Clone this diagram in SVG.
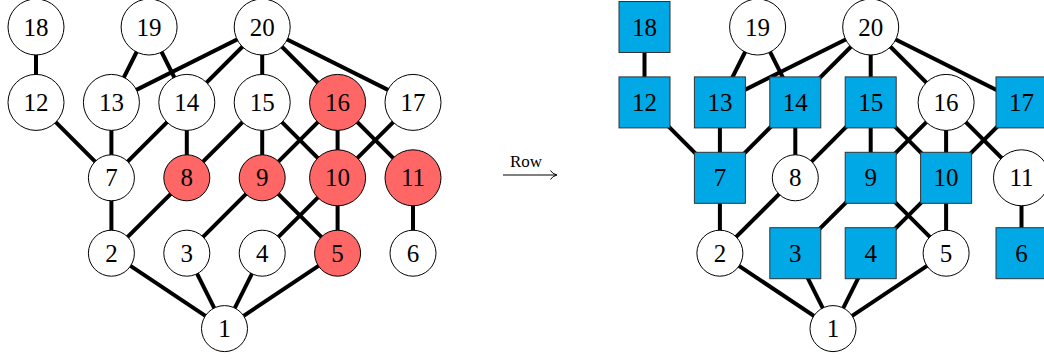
<svg xmlns="http://www.w3.org/2000/svg" width="1044" height="360" viewBox="0 0 1044 360">
<style>
.e{stroke:#000;stroke-width:4;fill:none}
.c{fill:#fff;stroke:#000;stroke-width:1}
.r{fill:#ff6666;stroke:#000;stroke-width:1}
.s{fill:#00a8e6;stroke:#333;stroke-width:1}
.t{font-family:"Liberation Serif","DejaVu Serif",serif;font-size:25px;text-anchor:middle;fill:#000}
.lbl{font-family:"Liberation Serif","DejaVu Serif",serif;font-size:17px;fill:#000}
</style>
<rect width="1044" height="360" fill="#fff"/>
<!-- LEFT GRAPH -->
<g id="left">
<g id="left-edges">
<line class="e" x1="36" y1="27" x2="36" y2="102.4"/>
<line class="e" x1="149.1" y1="27" x2="111.4" y2="102.4"/>
<line class="e" x1="149.1" y1="27" x2="186.8" y2="102.4"/>
<line class="e" x1="262.2" y1="27" x2="111.4" y2="102.4"/>
<line class="e" x1="262.2" y1="27" x2="186.8" y2="102.4"/>
<line class="e" x1="262.2" y1="27" x2="262.2" y2="102.4"/>
<line class="e" x1="262.2" y1="27" x2="337.6" y2="102.4"/>
<line class="e" x1="262.2" y1="27" x2="413" y2="102.4"/>
<line class="e" x1="36" y1="102.4" x2="111.4" y2="177.8"/>
<line class="e" x1="111.4" y1="102.4" x2="111.4" y2="177.8"/>
<line class="e" x1="186.8" y1="102.4" x2="111.4" y2="177.8"/>
<line class="e" x1="186.8" y1="102.4" x2="186.8" y2="177.8"/>
<line class="e" x1="262.2" y1="102.4" x2="186.8" y2="177.8"/>
<line class="e" x1="262.2" y1="102.4" x2="262.2" y2="177.8"/>
<line class="e" x1="337.6" y1="102.4" x2="262.2" y2="177.8"/>
<line class="e" x1="262.2" y1="102.4" x2="337.6" y2="177.8"/>
<line class="e" x1="337.6" y1="102.4" x2="337.6" y2="177.8"/>
<line class="e" x1="413" y1="102.4" x2="337.6" y2="177.8"/>
<line class="e" x1="337.6" y1="102.4" x2="413" y2="177.8"/>
<line class="e" x1="111.4" y1="177.8" x2="111.4" y2="253.2"/>
<line class="e" x1="186.8" y1="177.8" x2="111.4" y2="253.2"/>
<line class="e" x1="262.2" y1="177.8" x2="186.8" y2="253.2"/>
<line class="e" x1="337.6" y1="177.8" x2="262.2" y2="253.2"/>
<line class="e" x1="262.2" y1="177.8" x2="337.6" y2="253.2"/>
<line class="e" x1="337.6" y1="177.8" x2="337.6" y2="253.2"/>
<line class="e" x1="413" y1="177.8" x2="413" y2="253.2"/>
<line class="e" x1="111.4" y1="253.2" x2="224.5" y2="328.6"/>
<line class="e" x1="186.8" y1="253.2" x2="224.5" y2="328.6"/>
<line class="e" x1="262.2" y1="253.2" x2="224.5" y2="328.6"/>
<line class="e" x1="337.6" y1="253.2" x2="224.5" y2="328.6"/>
</g>
<g id="L18" transform="translate(36 27)"><circle class="c" r="28"/><text class="t" y="8.5">18</text></g>
<g id="L19" transform="translate(149.1 27)"><circle class="c" r="28"/><text class="t" y="8.5">19</text></g>
<g id="L20" transform="translate(262.2 27)"><circle class="c" r="28"/><text class="t" y="8.5">20</text></g>
<g id="L12" transform="translate(36 102.4)"><circle class="c" r="28"/><text class="t" y="8.5">12</text></g>
<g id="L13" transform="translate(111.4 102.4)"><circle class="c" r="28"/><text class="t" y="8.5">13</text></g>
<g id="L14" transform="translate(186.8 102.4)"><circle class="c" r="28"/><text class="t" y="8.5">14</text></g>
<g id="L15" transform="translate(262.2 102.4)"><circle class="c" r="28"/><text class="t" y="8.5">15</text></g>
<g id="L16" transform="translate(337.6 102.4)"><circle class="r" r="28"/><text class="t" y="8.5">16</text></g>
<g id="L17" transform="translate(413 102.4)"><circle class="c" r="28"/><text class="t" y="8.5">17</text></g>
<g id="L7" transform="translate(111.4 177.8)"><circle class="c" r="23"/><text class="t" y="8.5">7</text></g>
<g id="L8" transform="translate(186.8 177.8)"><circle class="r" r="23"/><text class="t" y="8.5">8</text></g>
<g id="L9" transform="translate(262.2 177.8)"><circle class="r" r="23"/><text class="t" y="8.5">9</text></g>
<g id="L10" transform="translate(337.6 177.8)"><circle class="r" r="28"/><text class="t" y="8.5">10</text></g>
<g id="L11" transform="translate(413 177.8)"><circle class="r" r="28"/><text class="t" y="8.5">11</text></g>
<g id="L2" transform="translate(111.4 253.2)"><circle class="c" r="23"/><text class="t" y="8.5">2</text></g>
<g id="L3" transform="translate(186.8 253.2)"><circle class="c" r="23"/><text class="t" y="8.5">3</text></g>
<g id="L4" transform="translate(262.2 253.2)"><circle class="c" r="23"/><text class="t" y="8.5">4</text></g>
<g id="L5" transform="translate(337.6 253.2)"><circle class="r" r="23"/><text class="t" y="8.5">5</text></g>
<g id="L6" transform="translate(413 253.2)"><circle class="c" r="23"/><text class="t" y="8.5">6</text></g>
<g id="L1" transform="translate(224.5 328.6)"><circle class="c" r="23"/><text class="t" y="8.5">1</text></g>
</g>
<!-- ARROW -->
<g id="arrow">
<text class="lbl" x="510" y="167">Row</text>
<line x1="503" y1="175" x2="556" y2="175" stroke="#000" stroke-width="1"/>
<path d="M550.5,170.5 Q552.5,174 557,175 Q552.5,176 550.5,179.5" fill="none" stroke="#000" stroke-width="1"/>
</g>
<!-- RIGHT GRAPH -->
<g id="right" transform="translate(608.5 0)">
<g id="right-edges">
<line class="e" x1="36" y1="27" x2="36" y2="102.4"/>
<line class="e" x1="149.1" y1="27" x2="111.4" y2="102.4"/>
<line class="e" x1="149.1" y1="27" x2="186.8" y2="102.4"/>
<line class="e" x1="262.2" y1="27" x2="111.4" y2="102.4"/>
<line class="e" x1="262.2" y1="27" x2="186.8" y2="102.4"/>
<line class="e" x1="262.2" y1="27" x2="262.2" y2="102.4"/>
<line class="e" x1="262.2" y1="27" x2="337.6" y2="102.4"/>
<line class="e" x1="262.2" y1="27" x2="413" y2="102.4"/>
<line class="e" x1="36" y1="102.4" x2="111.4" y2="177.8"/>
<line class="e" x1="111.4" y1="102.4" x2="111.4" y2="177.8"/>
<line class="e" x1="186.8" y1="102.4" x2="111.4" y2="177.8"/>
<line class="e" x1="186.8" y1="102.4" x2="186.8" y2="177.8"/>
<line class="e" x1="262.2" y1="102.4" x2="186.8" y2="177.8"/>
<line class="e" x1="262.2" y1="102.4" x2="262.2" y2="177.8"/>
<line class="e" x1="337.6" y1="102.4" x2="262.2" y2="177.8"/>
<line class="e" x1="262.2" y1="102.4" x2="337.6" y2="177.8"/>
<line class="e" x1="337.6" y1="102.4" x2="337.6" y2="177.8"/>
<line class="e" x1="413" y1="102.4" x2="337.6" y2="177.8"/>
<line class="e" x1="337.6" y1="102.4" x2="413" y2="177.8"/>
<line class="e" x1="111.4" y1="177.8" x2="111.4" y2="253.2"/>
<line class="e" x1="186.8" y1="177.8" x2="111.4" y2="253.2"/>
<line class="e" x1="262.2" y1="177.8" x2="186.8" y2="253.2"/>
<line class="e" x1="337.6" y1="177.8" x2="262.2" y2="253.2"/>
<line class="e" x1="262.2" y1="177.8" x2="337.6" y2="253.2"/>
<line class="e" x1="337.6" y1="177.8" x2="337.6" y2="253.2"/>
<line class="e" x1="413" y1="177.8" x2="413" y2="253.2"/>
<line class="e" x1="111.4" y1="253.2" x2="224.5" y2="328.6"/>
<line class="e" x1="186.8" y1="253.2" x2="224.5" y2="328.6"/>
<line class="e" x1="262.2" y1="253.2" x2="224.5" y2="328.6"/>
<line class="e" x1="337.6" y1="253.2" x2="224.5" y2="328.6"/>
</g>
<g id="R18" transform="translate(36 27)"><rect class="s" x="-25.5" y="-25.5" width="51" height="51"/><text class="t" y="8.5">18</text></g>
<g id="R19" transform="translate(149.1 27)"><circle class="c" r="28"/><text class="t" y="8.5">19</text></g>
<g id="R20" transform="translate(262.2 27)"><circle class="c" r="28"/><text class="t" y="8.5">20</text></g>
<g id="R12" transform="translate(36 102.4)"><rect class="s" x="-25.5" y="-25.5" width="51" height="51"/><text class="t" y="8.5">12</text></g>
<g id="R13" transform="translate(111.4 102.4)"><rect class="s" x="-25.5" y="-25.5" width="51" height="51"/><text class="t" y="8.5">13</text></g>
<g id="R14" transform="translate(186.8 102.4)"><rect class="s" x="-25.5" y="-25.5" width="51" height="51"/><text class="t" y="8.5">14</text></g>
<g id="R15" transform="translate(262.2 102.4)"><rect class="s" x="-25.5" y="-25.5" width="51" height="51"/><text class="t" y="8.5">15</text></g>
<g id="R16" transform="translate(337.6 102.4)"><circle class="c" r="28"/><text class="t" y="8.5">16</text></g>
<g id="R17" transform="translate(413 102.4)"><rect class="s" x="-25.5" y="-25.5" width="51" height="51"/><text class="t" y="8.5">17</text></g>
<g id="R7" transform="translate(111.4 177.8)"><rect class="s" x="-25.5" y="-25.5" width="51" height="51"/><text class="t" y="8.5">7</text></g>
<g id="R8" transform="translate(186.8 177.8)"><circle class="c" r="23"/><text class="t" y="8.5">8</text></g>
<g id="R9" transform="translate(262.2 177.8)"><rect class="s" x="-25.5" y="-25.5" width="51" height="51"/><text class="t" y="8.5">9</text></g>
<g id="R10" transform="translate(337.6 177.8)"><rect class="s" x="-25.5" y="-25.5" width="51" height="51"/><text class="t" y="8.5">10</text></g>
<g id="R11" transform="translate(413 177.8)"><circle class="c" r="28"/><text class="t" y="8.5">11</text></g>
<g id="R2" transform="translate(111.4 253.2)"><circle class="c" r="23"/><text class="t" y="8.5">2</text></g>
<g id="R3" transform="translate(186.8 253.2)"><rect class="s" x="-25.5" y="-25.5" width="51" height="51"/><text class="t" y="8.5">3</text></g>
<g id="R4" transform="translate(262.2 253.2)"><rect class="s" x="-25.5" y="-25.5" width="51" height="51"/><text class="t" y="8.5">4</text></g>
<g id="R5" transform="translate(337.6 253.2)"><circle class="c" r="23"/><text class="t" y="8.5">5</text></g>
<g id="R6" transform="translate(413 253.2)"><rect class="s" x="-25.5" y="-25.5" width="51" height="51"/><text class="t" y="8.5">6</text></g>
<g id="R1" transform="translate(224.5 328.6)"><circle class="c" r="23"/><text class="t" y="8.5">1</text></g>
</g>
</svg>
